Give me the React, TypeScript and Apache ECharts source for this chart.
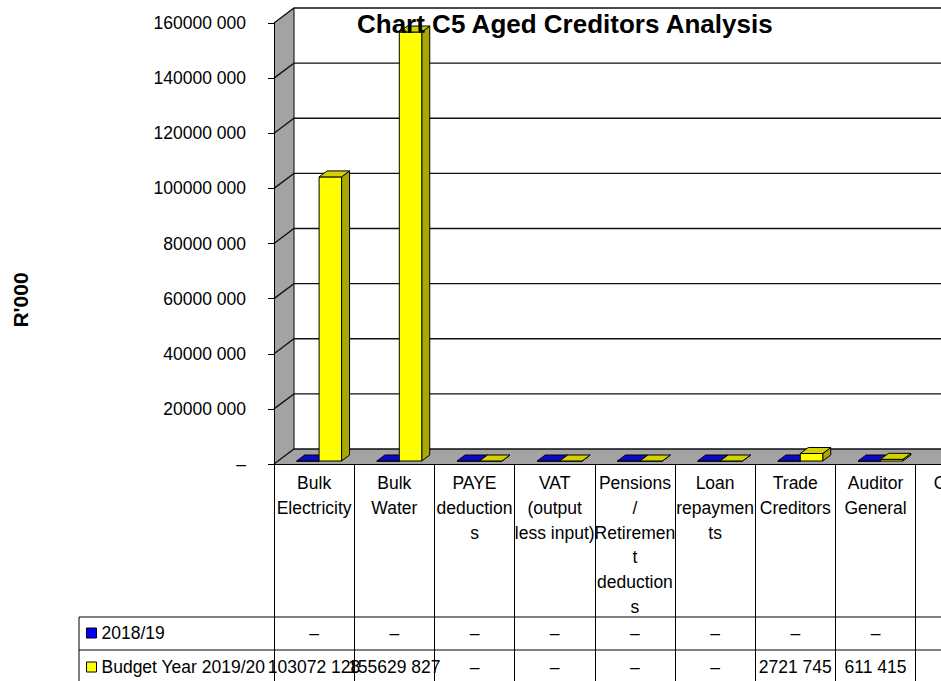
import React, { useEffect, useRef } from "react";
import * as echarts from "echarts";

const categories = [
  "Bulk\nElectricity",
  "Bulk\nWater",
  "PAYE\ndeduction\ns",
  "VAT\n(output\nless input)",
  "Pensions\n/\nRetiremen\nt\ndeduction\ns",
  "Loan\nrepaymen\nts",
  "Trade\nCreditors",
  "Auditor\nGeneral",
  "Other",
];
const seriesNames = ["2018/19", "Budget Year 2019/20"];
const values2018: (number | null)[] = [0, 0, 0, 0, 0, 0, 0, 0, null];
const valuesBudget: (number | null)[] = [103072128, 155629827, 0, 0, 0, 0, 2721745, 611415, null];
const yTicks = [0, 20000000, 40000000, 60000000, 80000000, 100000000, 120000000, 140000000, 160000000];
const yMax = 160000000;
const yInterval = 20000000;
const titleText = "Chart C5 Aged Creditors Analysis";
const yName = "R'000";

const FONT = "'Liberation Sans', Arial, sans-serif";
const FS = 17.5;
const DX = 20;
const DY = -15;

function fmt(v: number | null | undefined): string {
  if (v === null || v === undefined) return "";
  if (v === 0) return "\u2013";
  const th = Math.floor(v / 1000);
  const rest = String(v % 1000).padStart(3, "0");
  return `${th} ${rest}`;
}

function barRenderer(idx: number, front: string, side: string, top: string) {
  return (params: any, api: any) => {
    const cat = api.value(0);
    const v = api.value(1);
    if (isNaN(v)) return null;
    const base = api.coord([cat, 0]);
    const tp = api.coord([cat, v]);
    const band = api.size([1, 0])[0];
    const bw = band * 0.28;
    const cx = base[0] + 1;
    const x0 = idx === 0 ? cx - bw : cx;
    const x1 = x0 + bw;
    const f0 = 0.2;
    const f1 = 0.6;
    const ox0 = DX * f0, oy0 = DY * f0, ox1 = DX * f1, oy1 = DY * f1;
    const yb = base[1];
    const yt = tp[1];
    const stroke = { stroke: "#000", lineWidth: 1, lineJoin: "round" };
    return {
      type: "group",
      children: [
        {
          type: "polygon",
          shape: { points: [[x1 + ox0, yt + oy0], [x1 + ox1, yt + oy1], [x1 + ox1, yb + oy1], [x1 + ox0, yb + oy0]] },
          style: { fill: side, ...stroke },
        },
        {
          type: "polygon",
          shape: { points: [[x0 + ox0, yt + oy0], [x1 + ox0, yt + oy0], [x1 + ox0, yb + oy0], [x0 + ox0, yb + oy0]] },
          style: { fill: front, ...stroke },
        },
        {
          type: "polygon",
          shape: { points: [[x0 + ox0, yt + oy0], [x0 + ox1, yt + oy1], [x1 + ox1, yt + oy1], [x1 + ox0, yt + oy0]] },
          style: { fill: top, ...stroke },
        },
      ],
    };
  };
}

export default function App() {
  const ref = useRef<HTMLDivElement>(null);
  useEffect(() => {
    if (!ref.current) return;
    const chart = echarts.init(ref.current, undefined, { renderer: "svg" });
    const n = categories.length;
    const option: any = {
      animation: false,
      backgroundColor: "#ffffff",
      title: {
        text: titleText,
        left: 357,
        top: 11,
        padding: 0,
        textStyle: { fontFamily: FONT, fontSize: 26, fontWeight: "bold", color: "#000", lineHeight: 26 },
      },
      legend: {
        orient: "vertical",
        left: 86,
        top: 621,
        padding: 0,
        itemWidth: 10,
        itemHeight: 10,
        itemGap: 10,
        icon: "rect",
        selectedMode: false,
        data: seriesNames,
        itemStyle: { borderColor: "#000", borderWidth: 1 },
        textStyle: { fontFamily: FONT, fontSize: FS, lineHeight: 24, color: "#000" },
      },
      grid: { left: 274, top: 23, width: 80.2 * n, height: 441 },
      xAxis: [
        {
          type: "category",
          data: categories,
          position: "bottom",
          z: 10,
          axisLine: { show: true, lineStyle: { color: "#000", width: 1 } },
          axisTick: { show: true, length: 225, lineStyle: { color: "#000", width: 1 } },
          axisLabel: { interval: 0, margin: 7, fontFamily: FONT, fontSize: FS, lineHeight: 24.7, color: "#000", align: "center" },
          splitLine: { show: false },
        },
        {
          type: "category",
          data: categories,
          position: "bottom",
          offset: 169,
          axisLine: { show: false },
          axisTick: { show: false },
          axisLabel: {
            interval: 0,
            margin: 0,
            verticalAlign: "middle",
            fontFamily: FONT,
            fontSize: FS,
            color: "#000",
            formatter: (_v: string, i: number) => fmt(values2018[i]),
          },
        },
        {
          type: "category",
          data: categories,
          position: "bottom",
          offset: 203,
          axisLine: { show: false },
          axisTick: { show: false },
          axisLabel: {
            interval: 0,
            margin: 0,
            verticalAlign: "middle",
            fontFamily: FONT,
            fontSize: FS,
            color: "#000",
            formatter: (_v: string, i: number) => fmt(valuesBudget[i]),
          },
        },
      ],
      yAxis: {
        type: "value",
        min: 0,
        max: yMax,
        interval: yInterval,
        z: 10,
        axisLine: { show: true, lineStyle: { color: "#000", width: 1 } },
        axisTick: { show: true, length: 6, lineStyle: { color: "#000" } },
        splitLine: { show: false },
        axisLabel: { formatter: (v: number) => fmt(v), margin: 28, fontFamily: FONT, fontSize: FS, color: "#000" },
      },
      graphic: [
        {
          type: "text",
          x: 20,
          y: 300,
          rotation: Math.PI / 2,
          style: { text: yName, fontFamily: FONT, fontSize: 21, fontWeight: "bold", fill: "#000", align: "center", verticalAlign: "middle" },
        },
        { type: "line", shape: { x1: 79, y1: 617, x2: 1100, y2: 617 }, style: { stroke: "#000", lineWidth: 1 } },
        { type: "line", shape: { x1: 79, y1: 650, x2: 1100, y2: 650 }, style: { stroke: "#000", lineWidth: 1 } },
        { type: "line", shape: { x1: 79, y1: 617, x2: 79, y2: 681 }, style: { stroke: "#000", lineWidth: 1 } },
      ],
      series: [
        {
          type: "custom",
          name: "walls",
          silent: true,
          z: 1,
          data: [[0, 0]],
          renderItem: (params: any, api: any) => {
            const cs = params.coordSys;
            const x = cs.x, y = cs.y, w = cs.width, h = cs.height;
            return {
              type: "group",
              children: [
                {
                  type: "polygon",
                  shape: { points: [[x, y], [x + DX, y + DY], [x + DX, y + h + DY], [x, y + h]] },
                  style: { fill: "#a3a3a3" },
                },
                {
                  type: "polygon",
                  shape: { points: [[x, y + h], [x + DX, y + h + DY], [x + w + DX, y + h + DY], [x + w, y + h]] },
                  style: { fill: "#a3a3a3" },
                },
                {
                  type: "line",
                  shape: { x1: x + DX, y1: y + DY, x2: x + DX, y2: y + h + DY },
                  style: { stroke: "#000", lineWidth: 1 },
                },
              ],
            };
          },
        },
        {
          type: "custom",
          name: "gridlines",
          silent: true,
          z: 2,
          data: yTicks.map((t) => [0, t]),
          renderItem: (params: any, api: any) => {
            const cs = params.coordSys;
            const yv = api.coord([0, api.value(1)])[1];
            const x = cs.x;
            return {
              type: "polyline",
              shape: { points: [[x, yv], [x + DX, yv + DY], [x + cs.width + DX, yv + DY]] },
              style: { stroke: "#111", lineWidth: 1.3, fill: null },
            };
          },
        },
        {
          type: "custom",
          name: seriesNames[0],
          z: 3,
          itemStyle: { color: "#0000ff", borderColor: "#000", borderWidth: 1 },
          data: values2018.map((v, i) => [i, v === null ? "-" : v]),
          encode: { x: 0, y: 1 },
          renderItem: barRenderer(0, "#0000ff", "#00009a", "#0a0ac8"),
        },
        {
          type: "custom",
          name: seriesNames[1],
          z: 3,
          itemStyle: { color: "#ffff00", borderColor: "#000", borderWidth: 1 },
          data: valuesBudget.map((v, i) => [i, v === null ? "-" : v]),
          encode: { x: 0, y: 1 },
          renderItem: barRenderer(1, "#ffff00", "#a8a800", "#d2d200"),
        },
      ],
    };
    chart.setOption(option);
    return () => chart.dispose();
  }, []);
  return (
    <div style={{ position: "fixed", left: 0, top: 0, width: 941, height: 681, overflow: "hidden" }}>
      <div ref={ref} style={{ width: 1100, height: 681 }} />
    </div>
  );
}
